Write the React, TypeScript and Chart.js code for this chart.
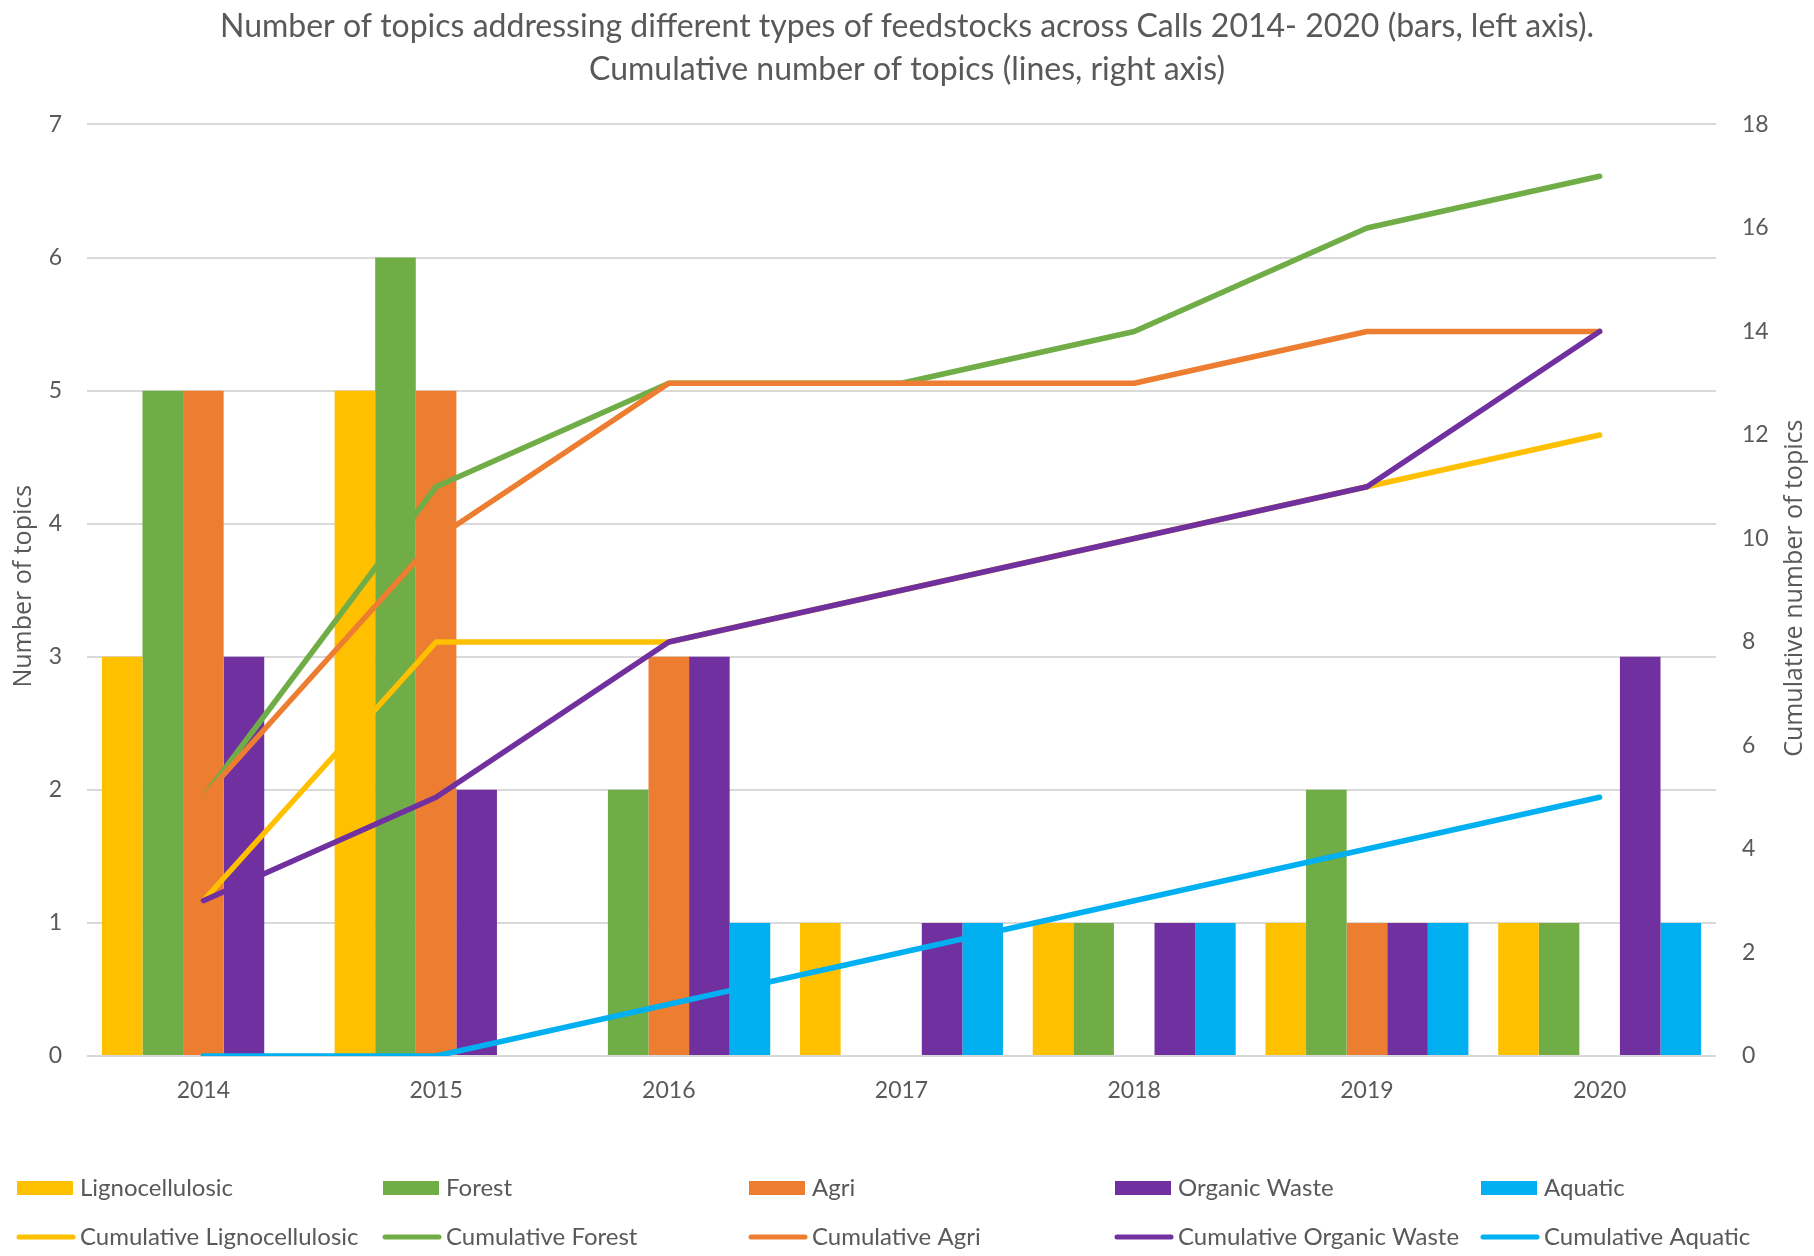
import { useEffect, useRef } from "react";
import Chart from "chart.js/auto";

const categories = ["2014", "2015", "2016", "2017", "2018", "2019", "2020"];

// bars, left axis
const lignocellulosic = [3, 5, 0, 1, 1, 1, 1];
const forest = [5, 6, 2, 0, 1, 2, 1];
const agri = [5, 5, 3, 0, 0, 1, 0];
const organicWaste = [3, 2, 3, 1, 1, 1, 3];
const aquatic = [0, 0, 1, 1, 1, 1, 1];

// lines, right axis
const cumLignocellulosic = [3, 8, 8, 9, 10, 11, 12];
const cumForest = [5, 11, 13, 13, 14, 16, 17];
const cumAgri = [5, 10, 13, 13, 13, 14, 14];
const cumOrganicWaste = [3, 5, 8, 9, 10, 11, 14];
const cumAquatic = [0, 0, 1, 2, 3, 4, 5];

const titleLines = [
  "Number of topics addressing different types of feedstocks across Calls 2014- 2020 (bars, left axis).",
  "Cumulative number of topics (lines, right axis)",
];
const leftAxisTitle = "Number of topics";
const rightAxisTitle = "Cumulative number of topics";

const YELLOW = "#FFC000";
const GREEN = "#70AD47";
const ORANGE = "#ED7D31";
const PURPLE = "#7030A0";
const BLUE = "#00B0F0";
const TEXT = "#595959";
const GRID = "#D9D9D9";
const FONT = "Lato, 'Liberation Sans', sans-serif";
const AXIS_FONT = "'Open Sans', 'Noto Sans', sans-serif";

// axis titles (right one reads bottom-to-top) and the two-row legend grid
const extrasPlugin = {
  id: "extras",
  afterDraw(chart: any) {
    const { ctx, chartArea } = chart;
    const midY = (chartArea.top + chartArea.bottom) / 2;
    ctx.save();
    ctx.fillStyle = TEXT;
    ctx.font = `25px ${AXIS_FONT}`;
    ctx.textAlign = "center";
    ctx.textBaseline = "middle";
    ctx.save();
    ctx.translate(24, midY - 4);
    ctx.rotate(-Math.PI / 2);
    ctx.fillText(leftAxisTitle, 0, 0);
    ctx.restore();
    ctx.save();
    ctx.translate(1795, midY - 2);
    ctx.rotate(-Math.PI / 2);
    ctx.fillText(rightAxisTitle, 0, 0);
    ctx.restore();

    const datasets = chart.data.datasets;
    ctx.font = `24px ${FONT}`;
    ctx.textAlign = "left";
    datasets.forEach((ds: any, i: number) => {
      const col = i % 5;
      const row = Math.floor(i / 5);
      const x = 17 + col * 366;
      const y = row === 0 ? 1188 : 1237;
      if (ds.type === "bar") {
        ctx.fillStyle = ds.backgroundColor;
        ctx.fillRect(x, y - 7, 56, 14);
      } else {
        ctx.strokeStyle = ds.borderColor;
        ctx.lineWidth = 5;
        ctx.lineCap = "round";
        ctx.beginPath();
        ctx.moveTo(x + 2, y);
        ctx.lineTo(x + 56, y);
        ctx.stroke();
      }
      ctx.fillStyle = TEXT;
      ctx.fillText(ds.label, x + 63, y);
    });
    ctx.restore();
  },
};

const bar = (label: string, data: number[], color: string) => ({
  type: "bar" as const,
  label,
  data,
  backgroundColor: color,
  borderWidth: 0,
  yAxisID: "y",
  order: 10,
});

const line = (label: string, data: number[], color: string, order: number) => ({
  type: "line" as const,
  label,
  data,
  borderColor: color,
  backgroundColor: color,
  borderWidth: 5.5,
  borderCapStyle: "round" as const,
  borderJoinStyle: "round" as const,
  pointRadius: 0,
  tension: 0,
  fill: false,
  yAxisID: "y1",
  order,
});

export default function App() {
  const canvasRef = useRef<HTMLCanvasElement | null>(null);

  useEffect(() => {
    document.body.style.margin = "0";
    if (!canvasRef.current) return;
    const ctx = canvasRef.current.getContext("2d");
    if (!ctx) return;

    const chart = new Chart(ctx, {
      data: {
        labels: categories,
        datasets: [
          bar("Lignocellulosic", lignocellulosic, YELLOW),
          bar("Forest", forest, GREEN),
          bar("Agri", agri, ORANGE),
          bar("Organic Waste", organicWaste, PURPLE),
          bar("Aquatic", aquatic, BLUE),
          line("Cumulative Lignocellulosic", cumLignocellulosic, YELLOW, 5),
          line("Cumulative Forest", cumForest, GREEN, 4),
          line("Cumulative Agri", cumAgri, ORANGE, 3),
          line("Cumulative Organic Waste", cumOrganicWaste, PURPLE, 2),
          line("Cumulative Aquatic", cumAquatic, BLUE, 1),
        ] as any,
      },
      options: {
        responsive: false,
        animation: false,
        devicePixelRatio: 1,
        layout: { padding: 0 },
        datasets: {
          bar: { barPercentage: 1, categoryPercentage: 0.872 },
        },
        plugins: {
          legend: { display: false },
          tooltip: { enabled: false },
          title: {
            display: true,
            text: titleLines,
            color: TEXT,
            font: { family: FONT, size: 32, weight: "normal", lineHeight: 1.32 },
            padding: { top: 6, bottom: 34 },
          },
        },
        scales: {
          x: {
            grid: { display: false },
            border: { display: false },
            ticks: { color: TEXT, font: { family: FONT, size: 23 }, padding: 13 },
            afterFit: (s: any) => {
              s.height = 200;
            },
          },
          y: {
            position: "left",
            min: 0,
            max: 7,
            ticks: { stepSize: 1, color: TEXT, font: { family: FONT, size: 23 }, padding: 25 },
            grid: { color: GRID, lineWidth: 2, drawTicks: false },
            border: { display: false },
            afterFit: (s: any) => {
              s.width = 87;
            },
          },
          y1: {
            position: "right",
            min: 0,
            max: 18,
            ticks: { stepSize: 2, color: TEXT, font: { family: FONT, size: 23 }, padding: 26 },
            grid: { drawOnChartArea: false, drawTicks: false },
            border: { display: false },
            afterFit: (s: any) => {
              s.width = 98;
            },
          },
        },
      },
      plugins: [extrasPlugin],
    } as any);

    return () => {
      chart.destroy();
    };
  }, []);

  return (
    <div>
      <canvas ref={canvasRef} width={1814} height={1256}></canvas>
    </div>
  );
}
